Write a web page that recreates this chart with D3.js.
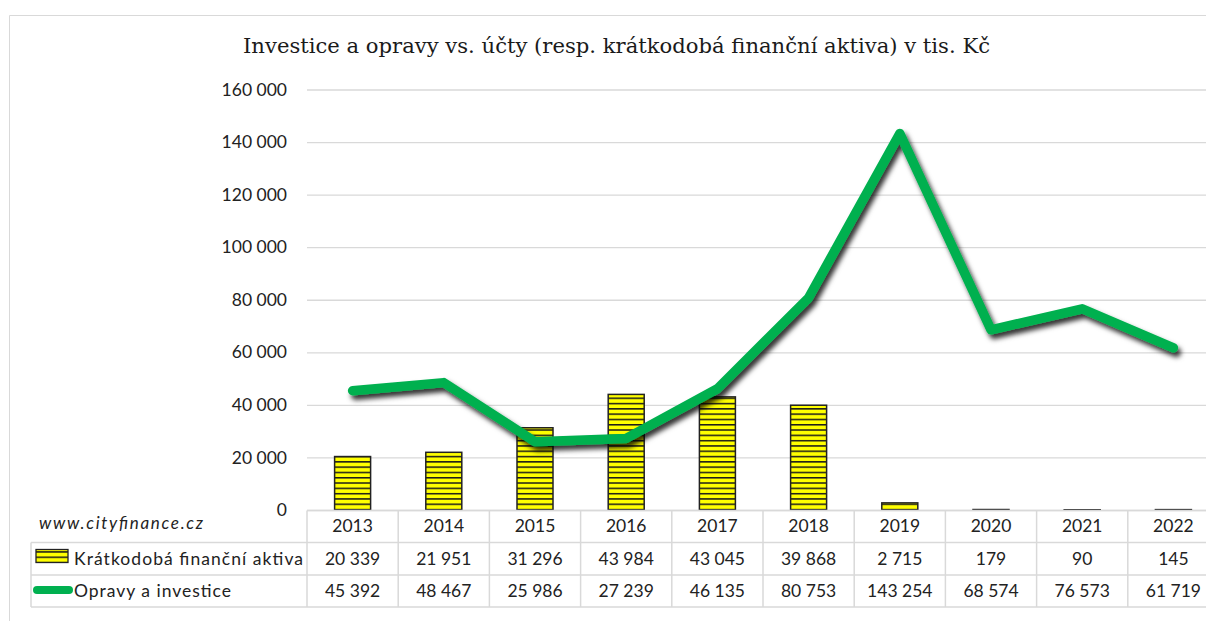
<!DOCTYPE html>
<html><head><meta charset="utf-8">
<script src="https://cdn.jsdelivr.net/npm/d3@7"></script>
<style>body{margin:0;background:#fff}svg{display:block}</style>
</head><body><svg id="c" width="1206" height="621"></svg>
<script>
const years = ["2013","2014","2015","2016","2017","2018","2019","2020","2021","2022"];
const aktiva = [20339,21951,31296,43984,43045,39868,2715,179,90,145];
const investice = [45392,48467,25986,27239,46135,80753,143254,68574,76573,61719];
const yTicks = [0,20000,40000,60000,80000,100000,120000,140000,160000];
const seriesNames = ["Krátkodobá finanční aktiva","Opravy a investice"];
const titleText = "Investice a opravy vs. účty (resp. krátkodobá finanční aktiva) v tis. Kč";
const watermark = "www.cityfinance.cz";

const svg = d3.select("#c");
const fmt = v => d3.format(",")(v).replace(/,/g, " ");
const font = "Lato, 'Open Sans', sans-serif";

const defs = svg.append("defs");
const pat = defs.append("pattern").attr("id","stripes").attr("patternUnits","userSpaceOnUse")
  .attr("width",8).attr("height",5.3);
pat.append("rect").attr("width",8).attr("height",5.3).attr("fill","#FFFF00");
pat.append("rect").attr("y",0).attr("width",8).attr("height",1.5).attr("fill","#1a1a1a");
const f = defs.append("filter").attr("id","shadow").attr("x","-10%").attr("y","-10%").attr("width","120%").attr("height","130%");
f.append("feDropShadow").attr("dx",3).attr("dy",4.5).attr("stdDeviation",2.4).attr("flood-color","#000").attr("flood-opacity",0.8);

// chart border
svg.append("line").attr("x1",9.5).attr("x2",1206).attr("y1",15.5).attr("y2",15.5).attr("stroke","#d9d9d9");
svg.append("line").attr("x1",9.5).attr("x2",9.5).attr("y1",15.5).attr("y2",621).attr("stroke","#d9d9d9");

const x = d3.scaleBand().domain(years).range([307,1219]).paddingInner(0).paddingOuter(0);
const y = d3.scaleLinear().domain([0,160000]).range([510,89.5]);

svg.append("text").attr("x",243).attr("y",53)
  .attr("font-family","'DejaVu Serif', 'Liberation Serif', serif").attr("font-size",20.5).attr("fill","#1a1a1a")
  .attr("textLength",747).attr("lengthAdjust","spacingAndGlyphs")
  .text(titleText);

// gridlines
const grid = svg.append("g").attr("transform","translate(307,0)")
  .call(d3.axisLeft(y).tickValues(yTicks).tickSize(-(1219-307)).tickFormat(""));
grid.select(".domain").remove();
grid.selectAll("line").attr("stroke","#d9d9d9").attr("stroke-width",1.3);

// y labels
const ya = svg.append("g").attr("transform","translate(287,0)")
  .call(d3.axisLeft(y).tickValues(yTicks).tickSize(0).tickPadding(0).tickFormat(fmt));
ya.select(".domain").remove();
ya.selectAll("text").attr("font-family",font).attr("font-size",17.5).attr("fill","#222");

// bars
const bw = 36;
svg.append("g").selectAll("rect").data(aktiva).join("rect")
  .attr("x",(d,i)=>x(years[i])+x.bandwidth()/2-bw/2)
  .attr("width",bw)
  .attr("y",d=>y(d))
  .attr("height",d=>Math.max(0,510-y(d)))
  .attr("fill","url(#stripes)").attr("stroke","#222").attr("stroke-width",1.5);

// line
const line = d3.line().x((d,i)=>x(years[i])+x.bandwidth()/2).y(d=>y(d));
svg.append("path").datum(investice).attr("d",line).attr("fill","none")
  .attr("stroke","#00B050").attr("stroke-width",9.5).attr("stroke-linejoin","round").attr("stroke-linecap","round")
  .attr("filter","url(#shadow)");

// table
const tg = svg.append("g");
const gridC = "#d9d9d9";
const right = 1206;
tg.append("line").attr("x1",307).attr("x2",right).attr("y1",510.5).attr("y2",510.5).attr("stroke",gridC).attr("stroke-width",1.5);
[542.5,575,607].forEach(yy=>tg.append("line").attr("x1",31).attr("x2",right).attr("y1",yy).attr("y2",yy).attr("stroke",gridC).attr("stroke-width",1.5));
tg.append("line").attr("x1",31).attr("x2",31).attr("y1",542.5).attr("y2",607).attr("stroke",gridC).attr("stroke-width",1.5);
years.forEach((yr,i)=>{
  tg.append("line").attr("x1",x(yr)).attr("x2",x(yr)).attr("y1",510.5).attr("y2",607).attr("stroke",gridC).attr("stroke-width",1.5);
});
const cx = yr => x(yr)+x.bandwidth()/2;
tg.selectAll("text.yr").data(years).join("text").attr("class","yr")
  .attr("x",d=>cx(d)).attr("y",532).attr("text-anchor","middle")
  .attr("font-family",font).attr("font-size",17.5).attr("fill","#222").text(d=>d);
tg.selectAll("text.a").data(aktiva).join("text").attr("class","a")
  .attr("x",(d,i)=>cx(years[i])).attr("y",564.5).attr("text-anchor","middle")
  .attr("font-family",font).attr("font-size",17.5).attr("fill","#222").text(fmt);
tg.selectAll("text.b").data(investice).join("text").attr("class","b")
  .attr("x",(d,i)=>cx(years[i])).attr("y",597).attr("text-anchor","middle")
  .attr("font-family",font).attr("font-size",17.5).attr("fill","#222").text(fmt);

// legend keys
tg.append("rect").attr("x",36).attr("y",549.5).attr("width",32).attr("height",13)
  .attr("fill","url(#stripes)").attr("stroke","#222").attr("stroke-width",1.3);
tg.append("text").attr("x",74).attr("y",564.5).attr("font-family",font).attr("font-size",17.5).attr("fill","#222")
  .attr("textLength",229).attr("lengthAdjust","spacing").text(seriesNames[0]);
tg.append("line").attr("x1",37).attr("x2",69).attr("y1",590).attr("y2",590)
  .attr("stroke","#00B050").attr("stroke-width",8).attr("stroke-linecap","round");
tg.append("text").attr("x",74).attr("y",597).attr("font-family",font).attr("font-size",17.5).attr("fill","#222")
  .attr("textLength",157).attr("lengthAdjust","spacing").text(seriesNames[1]);

svg.append("text").attr("x",39).attr("y",529).attr("font-family",font).attr("font-style","italic")
  .attr("font-size",17).attr("fill","#222").attr("textLength",164).attr("lengthAdjust","spacing").text(watermark);
</script></body></html>
